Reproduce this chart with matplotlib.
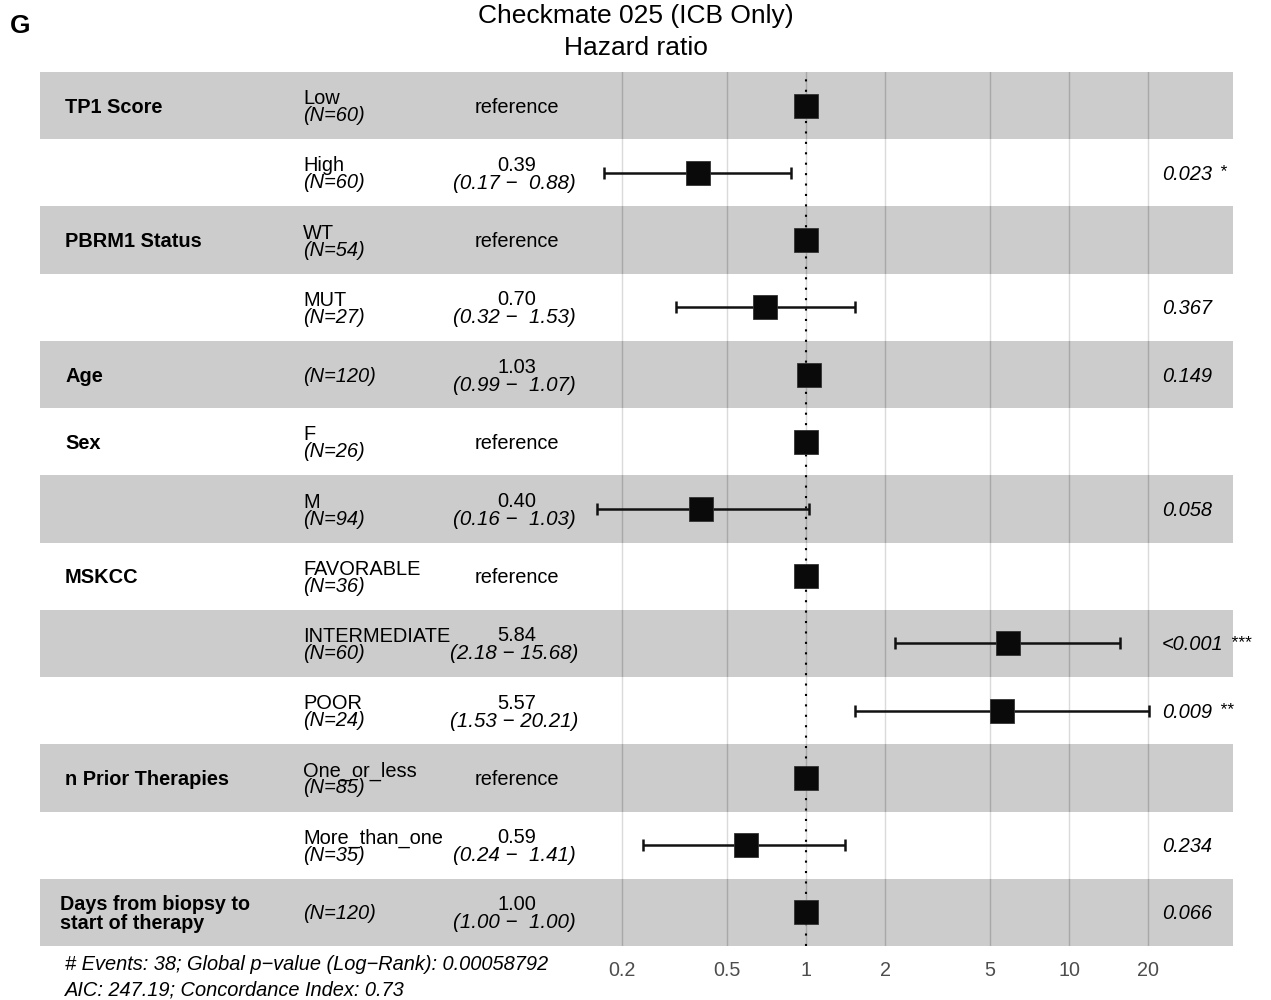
import numpy as np
import matplotlib
matplotlib.use("Agg")
import matplotlib.pyplot as plt
import matplotlib.transforms as mtransforms
from matplotlib import font_manager

plt.rcParams['font.family'] = ['Liberation Sans', 'DejaVu Sans']

# ---- data ----
variables = ["TP1 Score", "", "PBRM1 Status", "", "Age", "Sex", "", "MSKCC", "", "",
             "n Prior Therapies", "", "Days from biopsy to\nstart of therapy"]
levels = ["Low", "High", "WT", "MUT", "", "F", "M", "FAVORABLE", "INTERMEDIATE", "POOR",
          "One_or_less", "More_than_one", ""]
n_obs = [60, 60, 54, 27, 120, 26, 94, 36, 60, 24, 85, 35, 120]
hr = [np.nan, 0.39, np.nan, 0.70, 1.03, np.nan, 0.40, np.nan, 5.84, 5.57, np.nan, 0.59, 1.00]
ci_low = [np.nan, 0.17, np.nan, 0.32, 0.99, np.nan, 0.16, np.nan, 2.18, 1.53, np.nan, 0.24, 1.00]
ci_high = [np.nan, 0.88, np.nan, 1.53, 1.07, np.nan, 1.03, np.nan, 15.68, 20.21, np.nan, 1.41, 1.00]
p_values = ["", "0.023", "", "0.367", "0.149", "", "0.058", "", "<0.001", "0.009",
            "", "0.234", "0.066"]
p_stars = ["", "*", "", "", "", "", "", "", "***", "**", "", "", ""]
tick_values = [0.2, 0.5, 1, 2, 5, 10, 20]
tick_labels = ["0.2", "0.5", "1", "2", "5", "10", "20"]
title = "Checkmate 025 (ICB Only)\nHazard ratio"
footer1 = "# Events: 38; Global p\u2212value (Log\u2212Rank): 0.00058792"
footer2 = "AIC: 247.19; Concordance Index: 0.73"

# ---- figure ----
W, H = 1271, 1000
fig = plt.figure(figsize=(W / 100, H / 100), dpi=100)
x0, x1, y0, y1 = 40, 1233, 72, 946
ax = fig.add_axes([x0 / W, 1 - y1 / H, (x1 - x0) / W, (y1 - y0) / H])
ax.set_xscale('log')
ppd = 263.0  # pixels per decade
ax.set_xlim(10 ** ((x0 - 806) / ppd), 10 ** ((x1 - 806) / ppd))
nrow = len(levels)
ax.set_ylim(nrow - 0.5, -0.5)
for s in ax.spines.values():
    s.set_visible(False)
ax.set_yticks([])
ax.set_xticks(tick_values)
ax.set_xticklabels(tick_labels)
ax.xaxis.set_minor_locator(matplotlib.ticker.NullLocator())
ax.tick_params(axis='x', length=0, pad=11, labelsize=14.2, labelcolor='#4d4d4d')
ax.set_axisbelow(True)
ax.xaxis.grid(True, color='#d2d2d2', lw=1.0, zorder=0)

# bands
for i in range(nrow):
    if i % 2 == 0:
        ax.axhspan(i - 0.5, i + 0.5, color='black', alpha=0.2, lw=0, zorder=1)
    else:
        ax.axhspan(i - 0.5, i + 0.5, color='white', alpha=0.2, lw=0, zorder=1)

ax.axvline(1, color='black', lw=1.5, ls=(0, (1, 4)), zorder=2)

# estimates
rows = np.arange(nrow)
hr_arr = np.array(hr)
est_plot = np.where(np.isnan(hr_arr), 1.0, hr_arr)
lo = np.array(ci_low)
hi = np.array(ci_high)
mask = ~np.isnan(lo)
ax.errorbar(hr_arr[mask], rows[mask],
            xerr=[hr_arr[mask] - lo[mask], hi[mask] - hr_arr[mask]],
            fmt='none', ecolor='#111111', elinewidth=1.8, capsize=4, capthick=1.8, zorder=3)
ax.plot(est_plot, rows, ls='none', marker='s', markersize=17.2, markerfacecolor='#0a0a0a',
        markeredgecolor='#333333', markeredgewidth=0.6, zorder=4)

# text columns
bt = mtransforms.blended_transform_factory(ax.transAxes, ax.transData)
def off(dy):
    return mtransforms.offset_copy(bt, fig=fig, x=0, y=-dy, units='dots')

fx = lambda px: (px - x0) / (x1 - x0)
fs = 14.4
base = 1.5  # small downward shift for visual centering

narrow = any('Narrow' in f.name for f in font_manager.fontManager.ttflist)
for i in range(nrow):
    v = variables[i]
    if v:
        if "\n" in v:
            if narrow:
                ax.text(fx(60), i, v, transform=off(base), ha='left', va='center', fontsize=14.2,
                        fontweight='bold', family=['Liberation Sans Narrow', 'Liberation Sans'],
                        linespacing=1.05)
            else:
                ax.text(fx(60), i, v, transform=off(base), ha='left', va='center', fontsize=12.8,
                        fontweight='bold', linespacing=1.15)
        else:
            ax.text(fx(65), i, v, transform=off(base), ha='left', va='center', fontsize=fs,
                    fontweight='bold')
    if levels[i]:
        ax.text(fx(303), i, levels[i], transform=off(-8.5 + base), ha='left', va='center',
                fontsize=fs)
        ax.text(fx(303), i, f"(N={n_obs[i]})", transform=off(8.5 + base), ha='left',
                va='center', fontsize=fs, style='italic')
    else:
        ax.text(fx(303), i, f"(N={n_obs[i]})", transform=off(base), ha='left', va='center',
                fontsize=fs, style='italic')
    if np.isnan(hr[i]):
        ax.text(fx(517), i, "reference", transform=off(base), ha='center', va='center',
                fontsize=fs)
    else:
        ax.text(fx(517), i, f"{hr[i]:.2f}", transform=off(-9 + base), ha='center',
                va='center', fontsize=fs)
        ax.text(fx(514), i, f"({ci_low[i]:.2f} \u2212 {ci_high[i]:5.2f})",
                transform=off(9 + base), ha='center', va='center', fontsize=14.8,
                style='italic')
    if p_values[i]:
        t = ax.text(fx(1162), i, p_values[i], transform=off(base), ha='left', va='center',
                    fontsize=fs, style='italic')
        if p_stars[i]:
            ax.annotate(" " + p_stars[i], xy=(1, 0.5), xycoords=t, xytext=(2, 1),
                        textcoords='offset points', ha='left', va='center',
                        fontsize=12.5, style='italic')

# title and annotations
fig.text(636 / W, 1 - 32 / H, title, ha='center', va='center', fontsize=19, linespacing=1.45)
fig.text(10 / W, 1 - 26 / H, "G", ha='left', va='center', fontsize=19, fontweight='bold')
fig.text(65 / W, 1 - 964 / H, footer1, ha='left', va='center', fontsize=14.4, style='italic')
fig.text(65 / W, 1 - 990 / H, footer2, ha='left', va='center', fontsize=14.4, style='italic')

fig.savefig("out.png", dpi=100)
